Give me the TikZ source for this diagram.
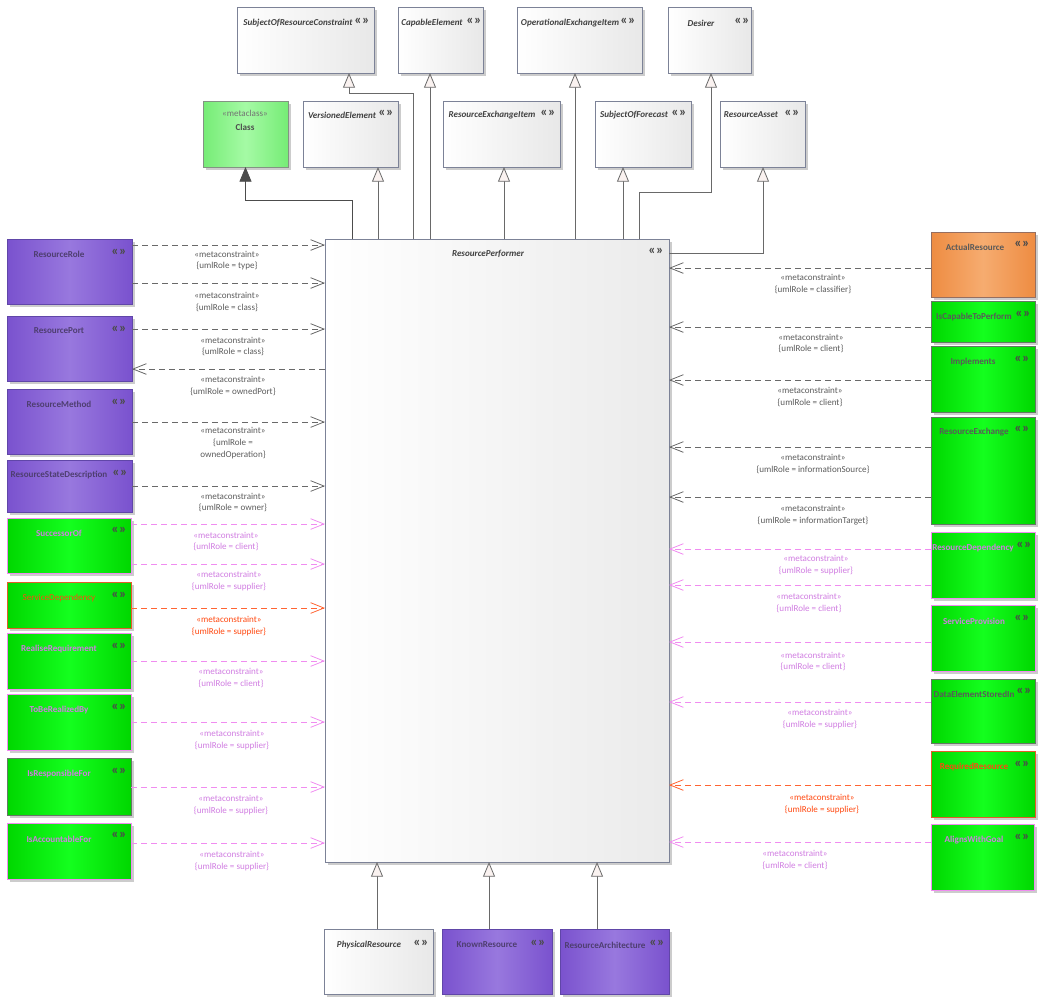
\documentclass[tikz,border=0pt]{standalone}
\usepackage{fontspec}
\setmainfont{Carlito}
\usetikzlibrary{arrows.meta,shadows}
\definecolor{grayborder}{RGB}{124,130,151}
\definecolor{gtext}{RGB}{64,64,64}
\definecolor{purpleA}{RGB}{122,82,206}
\definecolor{purpleB}{RGB}{152,120,222}
\definecolor{purpleborder}{RGB}{96,70,168}
\definecolor{ptext}{RGB}{78,62,112}
\definecolor{greenA}{RGB}{0,215,0}
\definecolor{greenB}{RGB}{20,255,30}
\definecolor{greenborder}{RGB}{100,120,100}
\definecolor{clsA}{RGB}{118,236,118}
\definecolor{clsB}{RGB}{165,250,165}
\definecolor{orA}{RGB}{238,140,66}
\definecolor{orB}{RGB}{246,172,112}
\definecolor{orborder}{RGB}{150,110,95}
\definecolor{pinkc}{RGB}{240,140,240}
\definecolor{pinktext}{RGB}{208,125,225}
\definecolor{orangec}{RGB}{255,100,50}
\definecolor{orangebd}{RGB}{228,92,40}
\definecolor{orangetext}{RGB}{255,72,16}
\definecolor{depgray}{RGB}{105,105,105}
\definecolor{lblgray}{RGB}{92,92,92}
\definecolor{genline}{RGB}{105,105,105}
\definecolor{trifill}{RGB}{250,242,240}
\definecolor{icong}{RGB}{75,75,75}
\newcommand\ubox[6]{%
  \pgfmathsetmacro\ubw{(#5-#3)*0.75}%
  \pgfmathsetmacro\ubh{(#6-#4)*0.75}%
  \node[#2, anchor=north west, minimum width=\ubw pt, minimum height=\ubh pt, inner sep=0pt, outer sep=0pt] (#1) at (#3,#4) {};}
\newcommand\utext[5]{\node[#2] (#1) at (#3,#4) {#5};}
\newcommand\clab[5]{\node[cl, text=#2] (#1) at (#3,#4) {#5};}
\begin{document}
\begin{tikzpicture}[x=0.75pt, y=-0.75pt,
  base/.style={draw, line width=0.6pt, drop shadow={shadow xshift=2.6pt, shadow yshift=-2.6pt, fill=black!20, opacity=1}},
  graybox/.style={base, draw=grayborder, left color=white, right color=black!9},
  rpbox/.style={base, draw=grayborder, left color=white, right color=black!8},
  purplebox/.style={base, draw=purpleborder, left color=purpleA, right color=purpleA, middle color=purpleB},
  greenbox/.style={base, left color=greenA, right color=greenA, middle color=greenB},
  classbox/.style={base, draw=greenborder!80, left color=clsA, right color=clsA, middle color=clsB},
  orangebox/.style={base, draw=orborder, left color=orA, right color=orA, middle color=orB},
  itl/.style={font=\bfseries\itshape\fontsize{6.8}{8}\selectfont, text=gtext, inner sep=0pt},
  nm/.style={font=\bfseries\fontsize{6.8}{8}\selectfont, text=ptext, inner sep=0pt},
  stereo/.style={font=\fontsize{6.8}{8}\selectfont, text=black!55, inner sep=0pt},
  icon/.style={font=\bfseries\fontsize{10.5}{10}\selectfont, text=icong, inner sep=0pt},
  cl/.style={font=\fontsize{6.8}{8.8}\selectfont, align=center, inner sep=0pt},
  dep/.style={draw=depgray, line width=0.6pt, dash pattern=on 4.5pt off 3pt, -{Straight Barb[length=10pt,width=8pt]}},
  gen/.style={draw=genline, line width=0.6pt, -{Triangle[length=11pt,width=9pt,fill=trifill]}},
  genfill/.style={draw=black!70, line width=0.6pt, -{Triangle[length=11pt,width=9pt,fill=black!70]}}
]
\useasboundingbox (0,0) rectangle (1041,1000);

% ---------- top row
\ubox{sorc}{graybox}{237}{7}{374}{73}
\utext{sorct}{itl}{298}{23}{SubjectOfResourceConstraint}
\utext{sorci}{icon}{362}{21}{«»}
\ubox{capel}{graybox}{398}{7}{483}{73}
\utext{capelt}{itl}{432}{23}{CapableElement}
\utext{capeli}{icon}{474}{21}{«»}
\ubox{oei}{graybox}{517}{7}{642}{73}
\utext{oeit}{itl}{570}{23}{OperationalExchangeItem}
\utext{oeii}{icon}{628}{21}{«»}
\ubox{desirer}{graybox}{668}{7}{751}{73}
\utext{desirert}{itl}{701}{23}{Desirer}
\utext{desireri}{icon}{742}{21}{«»}

% ---------- second row
\ubox{cls}{classbox}{203}{101}{288}{167}
\utext{clss}{stereo}{245}{113}{«metaclass»}
\node[font=\bfseries\fontsize{6.8}{8}\selectfont, text=black!70, inner sep=0pt] (clst) at (245,127) {Class};
\ubox{ve}{graybox}{303}{101}{398}{167}
\utext{vet}{itl}{342}{115}{VersionedElement}
\utext{vei}{icon}{386}{113}{«»}
\ubox{rei}{graybox}{443}{101}{560}{167}
\utext{reit}{itl}{492}{115}{ResourceExchangeItem}
\utext{reii}{icon}{548}{113}{«»}
\ubox{sof}{graybox}{595}{101}{691}{167}
\utext{soft}{itl}{634}{115}{SubjectOfForecast}
\utext{sofi}{icon}{679}{113}{«»}
\ubox{rasset}{graybox}{720}{101}{805}{167}
\utext{rassett}{itl}{751}{115}{ResourceAsset}
\utext{rasseti}{icon}{792}{113}{«»}

% ---------- main
\ubox{rp}{rpbox}{325}{239}{669}{862}
\utext{rpt}{itl}{488}{254}{ResourcePerformer}
\utext{rpi}{icon}{656}{251}{«»}

% ---------- left column
\ubox{rrole}{purplebox}{7}{239}{132}{304}
\utext{rrolet}{nm}{59}{254}{ResourceRole}
\utext{rrolei}{icon}{119}{252}{«»}
\ubox{rport}{purplebox}{7}{316}{132}{381}
\utext{rportt}{nm}{59}{331}{ResourcePort}
\utext{rporti}{icon}{119}{329}{«»}
\ubox{rmethod}{purplebox}{7}{389}{132}{454}
\utext{rmethodt}{nm}{59}{404}{ResourceMethod}
\utext{rmethodi}{icon}{119}{402}{«»}
\ubox{rsd}{purplebox}{7}{460}{132}{512}
\utext{rsdt}{nm}{59}{475}{ResourceStateDescription}
\utext{rsdi}{icon}{120}{473}{«»}
\ubox{succ}{greenbox, draw=pinkc}{7}{518}{131}{573}
\utext{succt}{nm, text=pinktext}{59}{533}{SuccessorOf}
\utext{succi}{icon}{119}{530}{«»}
\ubox{sdep}{greenbox, draw=orangebd, line width=0.75pt}{7}{582}{131}{628}
\utext{sdept}{nm, text=orangetext, font=\fontsize{6.8}{8}\selectfont}{59}{598}{ServiceDependency}
\utext{sdepi}{icon}{119}{595}{«»}
\ubox{rreq}{greenbox, draw=pinkc}{7}{633}{131}{689}
\utext{rreqt}{nm, text=pinktext}{59}{649}{RealiseRequirement}
\utext{rreqi}{icon}{119}{646}{«»}
\ubox{tbrb}{greenbox, draw=pinkc}{7}{694}{131}{750}
\utext{tbrbt}{nm, text=pinktext}{59}{710}{ToBeRealizedBy}
\utext{tbrbi}{icon}{119}{707}{«»}
\ubox{isresp}{greenbox, draw=greenborder}{7}{758}{131}{815}
\utext{isrespt}{nm, text=pinktext}{59}{774}{IsResponsibleFor}
\utext{isrespi}{icon}{119}{771}{«»}
\ubox{isacc}{greenbox, draw=pinkc}{7}{823}{131}{879}
\utext{isacct}{nm, text=pinktext}{59}{839}{IsAccountableFor}
\utext{isacci}{icon}{119}{835}{«»}

% ---------- right column
\ubox{actual}{orangebox}{931}{232}{1035}{297}
\utext{actualt}{nm, text=black!65}{975}{247}{ActualResource}
\utext{actuali}{icon}{1022}{244}{«»}
\ubox{iscap}{greenbox, draw=greenborder}{931}{301}{1035}{342}
\utext{iscapt}{nm, text=black!65}{974}{317}{IsCapableToPerform}
\utext{iscapi}{icon}{1023}{314}{«»}
\ubox{impl}{greenbox, draw=greenborder}{931}{346}{1035}{412}
\utext{implt}{nm, text=black!65}{973}{362}{Implements}
\utext{impli}{icon}{1022}{359}{«»}
\ubox{rex}{greenbox, draw=greenborder}{931}{417}{1035}{524}
\utext{rext}{nm, text=black!65}{974}{432}{ResourceExchange}
\utext{rexi}{icon}{1022}{429}{«»}
\ubox{rdep}{greenbox, draw=pinkc}{931}{532}{1035}{598}
\utext{rdept}{nm, text=pinktext}{973}{548}{ResourceDependency}
\utext{rdepi}{icon}{1024}{545}{«»}
\ubox{sprov}{greenbox, draw=pinkc}{931}{605}{1035}{671}
\utext{sprovt}{nm, text=pinktext}{974}{621}{ServiceProvision}
\utext{sprovi}{icon}{1022}{618}{«»}
\ubox{desi}{greenbox, draw=greenborder}{931}{679}{1035}{743}
\utext{desit}{nm, text=black!65}{974}{694}{DataElementStoredIn}
\utext{desii}{icon}{1024}{691}{«»}
\ubox{reqres}{greenbox, draw=orangebd, line width=0.75pt}{931}{751}{1035}{817}
\utext{reqrest}{nm, text=orangetext}{974}{767}{RequiredResource}
\utext{reqresi}{icon}{1022}{764}{«»}
\ubox{align}{greenbox, draw=pinkc}{931}{824}{1034}{890}
\utext{alignt}{nm, text=pinktext}{974}{840}{AlignsWithGoal}
\utext{aligni}{icon}{1022}{837}{«»}

% ---------- bottom row
\ubox{phys}{graybox}{324}{929}{433}{994}
\utext{physt}{itl}{369}{945}{PhysicalResource}
\utext{physi}{icon}{421}{943}{«»}
\ubox{known}{purplebox}{442}{929}{552}{994}
\utext{knownt}{nm}{487}{945}{KnownResource}
\utext{knowni}{icon}{538}{943}{«»}
\ubox{rarch}{purplebox}{560}{929}{669}{994}
\utext{rarcht}{nm}{605}{945}{ResourceArchitecture}
\utext{rarchi}{icon}{657}{943}{«»}

% ---------- generalizations
\draw[genfill] (rp.north -| 352,0) |- (245.5,200) -- (cls.south);
\draw[gen] (rp.north -| 378,0) -- (ve.south -| 378,0);
\draw[gen] (rp.north -| 413,0) |- (349,93) -- (sorc.south -| 349,0);
\draw[gen] (rp.north -| 430,0) -- (capel.south -| 430,0);
\draw[gen] (rp.north -| 504,0) -- (rei.south -| 504,0);
\draw[gen] (rp.north -| 575,0) -- (oei.south -| 575,0);
\draw[gen] (rp.north -| 623,0) -- (sof.south -| 623,0);
\draw[gen] (rp.north -| 639,0) |- (711,192) -- (desirer.south -| 711,0);
\draw[gen] (rp.east |- 0,253) -| (rasset.south -| 763,0);
\draw[gen] (phys.north -| 377,0) -- (rp.south -| 377,0);
\draw[gen] (known.north -| 489,0) -- (rp.south -| 489,0);
\draw[gen] (rarch.north -| 597,0) -- (rp.south -| 597,0);

% ---------- left dependencies
\draw[dep] (rrole.east |- 0,245) -- (rp.west |- 0,245);
\clab{l1}{lblgray}{227}{260.5}{«metaconstraint»\\\{umlRole = type\}}
\draw[dep] (rrole.east |- 0,283) -- (rp.west |- 0,283);
\clab{l2}{lblgray}{227}{302}{«metaconstraint»\\\{umlRole = class\}}
\draw[dep] (rport.east |- 0,329) -- (rp.west |- 0,329);
\clab{l3}{lblgray}{233}{346.5}{«metaconstraint»\\\{umlRole = class\}}
\draw[dep] (rp.west |- 0,369) -- (rport.east |- 0,369);
\clab{l4}{lblgray}{233}{386}{«metaconstraint»\\\{umlRole = ownedPort\}}
\draw[dep] (rmethod.east |- 0,422) -- (rp.west |- 0,422);
\clab{l5}{lblgray}{233}{443}{«metaconstraint»\\\{umlRole =\\ownedOperation\}}
\draw[dep] (rsd.east |- 0,486) -- (rp.west |- 0,486);
\clab{l6}{lblgray}{233}{502.5}{«metaconstraint»\\\{umlRole = owner\}}
\draw[dep, draw=pinkc] (succ.east |- 0,524) -- (rp.west |- 0,524);
\clab{l7}{pinktext}{226}{541.5}{«metaconstraint»\\\{umlRole = client\}}
\draw[dep, draw=pinkc] (succ.east |- 0,564) -- (rp.west |- 0,564);
\clab{l8}{pinktext}{229}{581}{«metaconstraint»\\\{umlRole = supplier\}}
\draw[dep, draw=orangec] (sdep.east |- 0,608) -- (rp.west |- 0,608);
\clab{l9}{orangetext}{229}{626}{«metaconstraint»\\\{umlRole = supplier\}}
\draw[dep, draw=pinkc] (rreq.east |- 0,661) -- (rp.west |- 0,661);
\clab{l10}{pinktext}{231}{678}{«metaconstraint»\\\{umlRole = client\}}
\draw[dep, draw=pinkc] (tbrb.east |- 0,722) -- (rp.west |- 0,722);
\clab{l11}{pinktext}{232}{740}{«metaconstraint»\\\{umlRole = supplier\}}
\draw[dep, draw=pinkc] (isresp.east |- 0,787) -- (rp.west |- 0,787);
\clab{l12}{pinktext}{231}{805}{«metaconstraint»\\\{umlRole = supplier\}}
\draw[dep, draw=pinkc] (isacc.east |- 0,843) -- (rp.west |- 0,843);
\clab{l13}{pinktext}{232}{861}{«metaconstraint»\\\{umlRole = supplier\}}

% ---------- right dependencies
\draw[dep] (actual.west |- 0,268) -- (rp.east |- 0,268);
\clab{r1}{lblgray}{813}{284}{«metaconstraint»\\\{umlRole = classifier\}}
\draw[dep] (iscap.west |- 0,327) -- (rp.east |- 0,327);
\clab{r2}{lblgray}{811}{343.5}{«metaconstraint»\\\{umlRole = client\}}
\draw[dep] (impl.west |- 0,380) -- (rp.east |- 0,380);
\clab{r3}{lblgray}{810}{397}{«metaconstraint»\\\{umlRole = client\}}
\draw[dep] (rex.west |- 0,447) -- (rp.east |- 0,447);
\clab{r4}{lblgray}{813}{464}{«metaconstraint»\\\{umlRole = informationSource\}}
\draw[dep] (rex.west |- 0,497) -- (rp.east |- 0,497);
\clab{r5}{lblgray}{813}{515}{«metaconstraint»\\\{umlRole = informationTarget\}}
\draw[dep, draw=pinkc] (rdep.west |- 0,549) -- (rp.east |- 0,549);
\clab{r6}{pinktext}{816}{565}{«metaconstraint»\\\{umlRole = supplier\}}
\draw[dep, draw=pinkc] (rdep.west |- 0,585) -- (rp.east |- 0,585);
\clab{r7}{pinktext}{809}{603}{«metaconstraint»\\\{umlRole = client\}}
\draw[dep, draw=pinkc] (sprov.west |- 0,642) -- (rp.east |- 0,642);
\clab{r8}{pinktext}{813}{661.5}{«metaconstraint»\\\{umlRole = client\}}
\draw[dep, draw=pinkc] (desi.west |- 0,702) -- (rp.east |- 0,702);
\clab{r9}{pinktext}{820}{719}{«metaconstraint»\\\{umlRole = supplier\}}
\draw[dep, draw=orangec] (reqres.west |- 0,785) -- (rp.east |- 0,785);
\clab{r10}{orangetext}{822}{804}{«metaconstraint»\\\{umlRole = supplier\}}
\draw[dep, draw=pinkc] (align.west |- 0,842) -- (rp.east |- 0,842);
\clab{r11}{pinktext}{795}{860}{«metaconstraint»\\\{umlRole = client\}}
\end{tikzpicture}
\end{document}
